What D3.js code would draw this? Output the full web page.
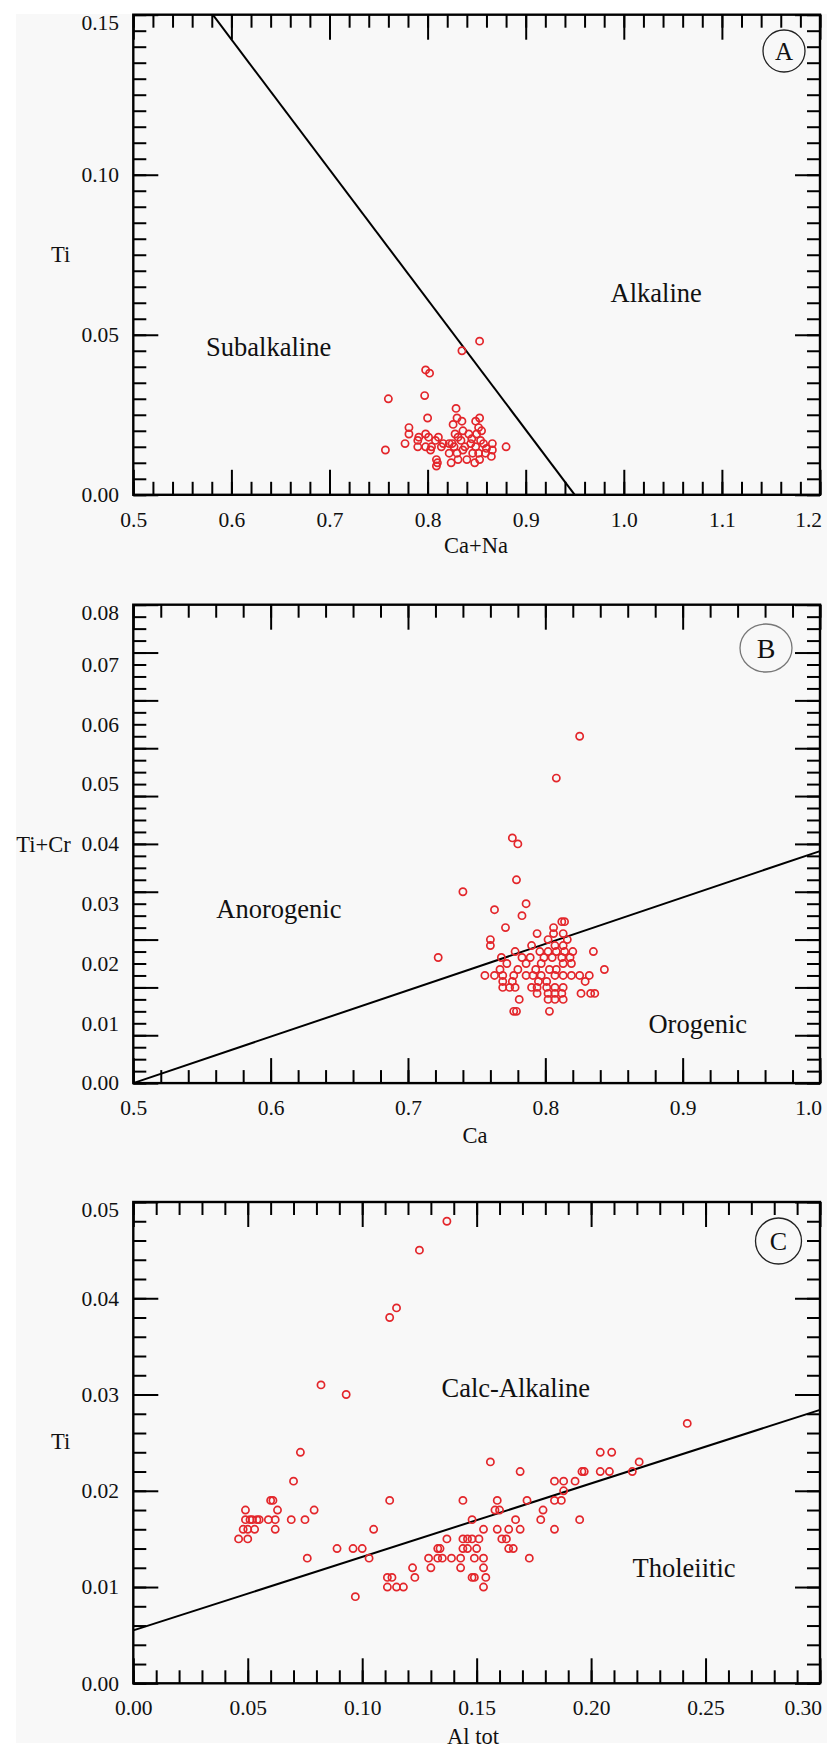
<!DOCTYPE html>
<html>
<head>
<meta charset="utf-8">
<script src="https://cdn.jsdelivr.net/npm/d3@7"></script>
<style>
  body { margin: 0; background: #fff; }
  svg { display: block; }
</style>
</head>
<body>
<div id="chart"></div>
<script>
// ---- data ----
// A: Ti vs Ca+Na
var caNaA = [0.853,0.835,0.798,0.802,0.760,0.797,0.829,0.800,0.757,0.880,0.781,0.781,0.777,0.790,0.790,0.798,0.801,0.798,0.803,0.808,
             0.811,0.814,0.809,0.810,0.809,0.822,0.822,0.824,0.826,0.828,0.825,0.830,0.831,0.830,0.831,0.835,0.836,0.834,0.836,0.840,
             0.842,0.844,0.846,0.848,0.849,0.853,0.852,0.855,0.850,0.854,0.849,0.852,0.853,0.857,0.859,0.866,0.866,0.865,0.860,0.845,
             0.838,0.827,0.816,0.804,0.791];
var tiA   = [0.048,0.045,0.039,0.038,0.030,0.031,0.027,0.024,0.014,0.015,0.021,0.019,0.016,0.017,0.015,0.019,0.018,0.015,0.014,0.017,
             0.018,0.015,0.011,0.010,0.009,0.016,0.013,0.010,0.022,0.019,0.016,0.024,0.018,0.013,0.011,0.023,0.020,0.017,0.014,0.011,
             0.019,0.016,0.013,0.010,0.023,0.024,0.021,0.020,0.019,0.017,0.015,0.013,0.011,0.016,0.013,0.016,0.014,0.012,0.0145,0.0175,
             0.015,0.015,0.016,0.015,0.018];
var lineAx = [0.581, 0.950];
var lineAy = [0.150, 0.000];

// B: Ti+Cr vs Ca
var caB   = [0.825,0.808,0.776,0.780,0.779,0.740,0.786,0.763,0.783,0.771,0.794,0.812,0.814,0.806,0.806,0.813,0.816,0.802,0.760,0.760,
             0.790,0.807,0.813,0.722,0.778,0.796,0.802,0.808,0.814,0.820,0.835,0.768,0.783,0.789,0.799,0.805,0.812,0.818,0.767,0.772,
             0.780,0.786,0.793,0.797,0.803,0.808,0.813,0.819,0.843,0.756,0.763,0.769,0.777,0.786,0.791,0.797,0.807,0.813,0.819,0.825,
             0.832,0.829,0.769,0.776,0.795,0.801,0.769,0.774,0.778,0.790,0.794,0.801,0.807,0.813,0.794,0.802,0.807,0.812,0.826,0.833,
             0.836,0.781,0.802,0.807,0.813,0.777,0.779,0.803];
var tiCrB = [0.058,0.051,0.041,0.040,0.034,0.032,0.030,0.029,0.028,0.026,0.025,0.027,0.027,0.026,0.025,0.025,0.024,0.024,0.024,0.023,
             0.023,0.023,0.023,0.021,0.022,0.022,0.022,0.022,0.022,0.022,0.022,0.021,0.021,0.021,0.021,0.021,0.021,0.021,0.019,0.020,
             0.019,0.020,0.019,0.020,0.019,0.019,0.020,0.020,0.019,0.018,0.018,0.018,0.018,0.018,0.018,0.018,0.018,0.018,0.018,0.018,
             0.018,0.017,0.017,0.017,0.017,0.017,0.016,0.016,0.016,0.016,0.016,0.016,0.016,0.016,0.015,0.015,0.015,0.015,0.015,0.015,
             0.015,0.014,0.014,0.014,0.014,0.012,0.012,0.012];
var lineBx = [0.5, 1.0];
var lineBy = [0.0, 0.0388];

// C: Ti vs Al tot
var alC = [0.137,0.125,0.115,0.112,0.082,0.093,0.242,0.073,0.070,0.060,0.061,0.049,0.063,0.079,0.112,0.049,0.051,0.052,0.054,0.055,
           0.059,0.062,0.069,0.075,0.048,0.050,0.053,0.062,0.046,0.050,0.076,0.105,0.089,0.096,0.100,0.103,0.097,0.111,0.113,0.111,
           0.115,0.118,0.122,0.123,0.129,0.130,0.133,0.134,0.133,0.137,0.135,0.139,0.143,0.143,0.144,0.146,0.148,0.151,0.144,0.146,
           0.150,0.149,0.153,0.153,0.148,0.149,0.154,0.153,0.144,0.148,0.153,0.156,0.159,0.158,0.160,0.159,0.161,0.163,0.164,0.166,
           0.164,0.167,0.169,0.169,0.172,0.173,0.178,0.179,0.184,0.184,0.188,0.184,0.187,0.188,0.193,0.195,0.196,0.197,0.204,0.209,
           0.204,0.208,0.218,0.221];
var tiC = [0.048,0.045,0.039,0.038,0.031,0.030,0.027,0.024,0.021,0.019,0.019,0.018,0.018,0.018,0.019,0.017,0.017,0.017,0.017,0.017,
           0.017,0.017,0.017,0.017,0.016,0.016,0.016,0.016,0.015,0.015,0.013,0.016,0.014,0.014,0.014,0.013,0.009,0.011,0.011,0.010,
           0.010,0.010,0.012,0.011,0.013,0.012,0.014,0.014,0.013,0.015,0.013,0.013,0.013,0.012,0.015,0.015,0.015,0.015,0.014,0.014,
           0.014,0.013,0.013,0.012,0.011,0.011,0.011,0.010,0.019,0.017,0.016,0.023,0.019,0.018,0.018,0.016,0.015,0.015,0.014,0.014,
           0.016,0.017,0.016,0.022,0.019,0.013,0.017,0.018,0.016,0.021,0.021,0.019,0.019,0.020,0.021,0.017,0.022,0.022,0.024,0.024,
           0.022,0.022,0.022,0.023];
var lineCx = [0.00, 0.30];
var lineCy = [0.0055, 0.0284];

// tick labels
var xTicksA = [0.5,0.6,0.7,0.8,0.9,1.0,1.1,1.2];
var yTicksA = [0.00,0.05,0.10,0.15];
var xTicksB = [0.5,0.6,0.7,0.8,0.9,1.0];
var yTicksB = [0.00,0.01,0.02,0.03,0.04,0.05,0.06,0.07,0.08];
var xTicksC = [0.00,0.05,0.10,0.15,0.20,0.25,0.30];
var yTicksC = [0.00,0.01,0.02,0.03,0.04,0.05];

// ---- layout ----
var W = 827, H = 1749;
var left = 133.3, right = 820;
var red = "#e3262b";
var serif = "'Liberation Serif', 'Times New Roman', serif";

var svg = d3.select("#chart").append("svg")
    .attr("width", W)
    .attr("height", H)
    .attr("font-family", serif);

svg.append("rect").attr("width", W).attr("height", H).attr("fill", "#fff");
svg.append("rect")
    .attr("x", 16).attr("y", 14)
    .attr("width", W - 16).attr("height", 1743 - 14)
    .attr("fill", "#f8f8f8");

// evenly spaced tick values without float drift
function steps(lo, hi, step) {
    var n = Math.round((hi - lo) / step);
    return d3.range(n + 1).map(function(i) { return +(lo + i * step).toFixed(6); });
}

function panel(p) {
    var g = svg.append("g");
    var x = d3.scaleLinear().domain(p.xDomain).range([left, right]);
    var y = d3.scaleLinear().domain(p.yDomain).range([p.bottom, p.top]);
    // tick marks may follow their own scale (panel B)
    var yt = p.yTickDomain ? d3.scaleLinear().domain(p.yTickDomain).range([p.bottom, p.top]) : y;

    var minorX = steps(p.xDomain[0], p.xDomain[1], p.xMinor);
    var majorX = steps(p.xDomain[0], p.xDomain[1], p.xMajor);
    var ytd = yt.domain();
    var minorY = steps(ytd[0], ytd[1], p.yMinor);
    var majorY = steps(ytd[0], ytd[1], p.yMajor);

    function ticks(axis, vals, len, tr) {
        g.append("g")
            .attr("transform", tr)
            .call(axis.tickValues(vals).tickSize(-len).tickFormat(""))
            .call(function(s) {
                s.select(".domain").remove();
                s.selectAll("line").attr("stroke", "#000").attr("stroke-width", 2);
            });
    }
    // inward ticks on all four sides
    [[minorX, 13], [majorX, 25]].forEach(function(t) {
        ticks(d3.axisBottom(x), t[0], t[1], "translate(0," + p.bottom + ")");
        ticks(d3.axisTop(x), t[0], t[1], "translate(0," + p.top + ")");
    });
    [[minorY, 13], [majorY, 25]].forEach(function(t) {
        ticks(d3.axisLeft(yt), t[0], t[1], "translate(" + left + ",0)");
        ticks(d3.axisRight(yt), t[0], t[1], "translate(" + right + ",0)");
    });

    // frame
    g.append("rect")
        .attr("x", left).attr("y", p.top)
        .attr("width", right - left).attr("height", p.bottom - p.top)
        .attr("fill", "none").attr("stroke", "#000").attr("stroke-width", 2.4);

    // tick labels
    var xMax = p.xDomain[1];
    g.append("g")
        .attr("transform", "translate(0," + p.bottom + ")")
        .call(d3.axisBottom(x).tickValues(p.xTicks).tickSize(0).tickPadding(16.5).tickFormat(d3.format(p.xFmt)))
        .call(function(s) {
            s.attr("font-family", serif).attr("font-size", 21.5);
            s.select(".domain").remove();
            s.selectAll("text").attr("font-family", serif).attr("font-size", 21.5).attr("fill", "#111")
                // last label sits flush against the right edge, as in the original
                .attr("text-anchor", function(d) { return d === xMax ? "end" : "middle"; })
                .attr("x", function(d) { return d === xMax ? 1.5 : 0; });
        });
    var yMax = p.yDomain[1];
    g.append("g")
        .attr("transform", "translate(" + left + ",0)")
        .call(d3.axisLeft(y).tickValues(p.yTicks).tickSize(0).tickPadding(14.3).tickFormat(d3.format(p.yFmt)))
        .call(function(s) {
            s.attr("font-family", serif).attr("font-size", 21.5);
            s.select(".domain").remove();
            s.selectAll("text").attr("font-family", serif).attr("font-size", 21.5).attr("fill", "#111")
                .attr("y", function(d) { return d === yMax ? 8 : 0; });
        });

    // axis titles
    g.append("text")
        .attr("x", p.yTitle[1]).attr("y", p.yTitle[2])
        .attr("text-anchor", "middle").attr("dy", "0.33em")
        .attr("font-size", 22.5).attr("fill", "#111")
        .text(p.yTitle[0]);
    g.append("text")
        .attr("x", p.xTitle[1]).attr("y", p.xTitle[2])
        .attr("text-anchor", "middle")
        .attr("font-size", 22.5).attr("fill", "#111")
        .text(p.xTitle[0]);

    // field labels
    p.fields.forEach(function(f) {
        g.append("text")
            .attr("x", x(f[1])).attr("y", y(f[2]))
            .attr("text-anchor", "middle").attr("dy", "0.33em")
            .attr("font-size", 26.5).attr("fill", "#111")
            .text(f[0]);
    });

    // discriminant line
    var pts = p.lineX.map(function(v, i) { return [v, p.lineY[i]]; });
    g.append("path")
        .datum(pts)
        .attr("d", d3.line().x(function(d) { return x(d[0]); }).y(function(d) { return y(d[1]); }))
        .attr("fill", "none").attr("stroke", "#000").attr("stroke-width", 2);

    // samples
    g.append("g")
        .selectAll("circle")
        .data(p.xs)
        .enter().append("circle")
        .attr("cx", function(d) { return x(d); })
        .attr("cy", function(d, i) { return y(p.ys[i]); })
        .attr("r", 3.6)
        .attr("fill", "none")
        .attr("stroke", red)
        .attr("stroke-width", 1.7);

    // panel letter
    g.append("ellipse")
        .attr("cx", p.badge[1]).attr("cy", p.badge[2])
        .attr("rx", p.badge[3]).attr("ry", p.badge[4])
        .attr("fill", "none").attr("stroke", p.badge[5]).attr("stroke-width", 1.3);
    g.append("text")
        .attr("x", p.badge[1]).attr("y", p.badge[2])
        .attr("text-anchor", "middle").attr("dy", "0.35em")
        .attr("font-size", p.badge[6]).attr("fill", "#111")
        .text(p.badge[0]);
}

panel({
    top: 14.7, bottom: 494.8,
    xDomain: [0.5, 1.2], yDomain: [0, 0.15],
    xMinor: 0.02, xMajor: 0.1, yMinor: 0.005, yMajor: 0.05,
    xTicks: xTicksA, yTicks: yTicksA, xFmt: ".1f", yFmt: ".2f",
    xs: caNaA, ys: tiA, lineX: lineAx, lineY: lineAy,
    yTitle: ["Ti", 60.6, 255], xTitle: ["Ca+Na", 476, 553],
    fields: [["Subalkaline", 0.638, 0.0462], ["Alkaline", 1.033, 0.0629]],
    badge: ["A", 784, 51, 21, 21, "#222", 25]
});

panel({
    top: 604.7, bottom: 1083.1,
    xDomain: [0.5, 1.0], yDomain: [0, 0.08], yTickDomain: [0, 0.1],
    xMinor: 0.02, xMajor: 0.1, yMinor: 0.0025, yMajor: 0.01,
    xTicks: xTicksB, yTicks: yTicksB, xFmt: ".1f", yFmt: ".2f",
    xs: caB, ys: tiCrB, lineX: lineBx, lineY: lineBy,
    yTitle: ["Ti+Cr", 43.5, 845], xTitle: ["Ca", 475, 1143],
    fields: [["Anorogenic", 0.606, 0.0291], ["Orogenic", 0.911, 0.0099]],
    badge: ["B", 766, 648, 26, 24, "#777", 28]
});

panel({
    top: 1202, bottom: 1683.3,
    xDomain: [0, 0.30], yDomain: [0, 0.05],
    xMinor: 0.01, xMajor: 0.05, yMinor: 0.002, yMajor: 0.01,
    xTicks: xTicksC, yTicks: yTicksC, xFmt: ".2f", yFmt: ".2f",
    xs: alC, ys: tiC, lineX: lineCx, lineY: lineCy,
    yTitle: ["Ti", 60.6, 1442], xTitle: ["Al tot", 473, 1744],
    fields: [["Calc-Alkaline", 0.1671, 0.0306], ["Tholeiitic", 0.2406, 0.0119]],
    badge: ["C", 778.5, 1241, 23, 23, "#222", 26]
});
</script>
</body>
</html>
